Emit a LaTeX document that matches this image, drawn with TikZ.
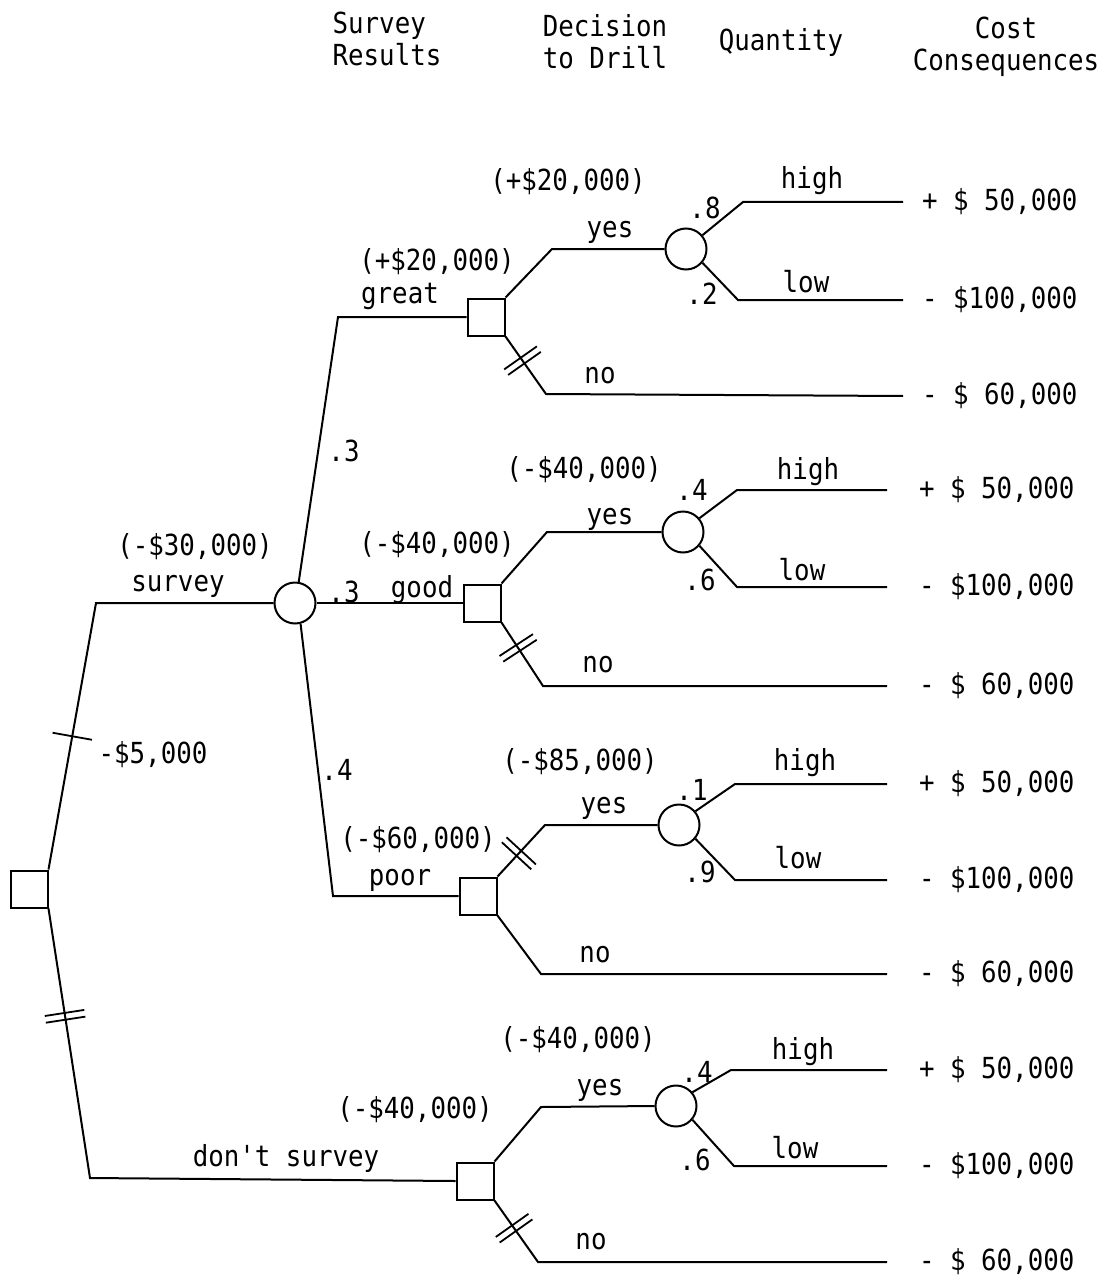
\documentclass[tikz,border=0pt]{standalone}
\usepackage{fontspec}
\newfontfamily\tw[FakeStretch=0.89]{DejaVu Sans Mono}
\usetikzlibrary{calc}
\newcommand{\onetick}{\rule{1.8pt}{40pt}}
\newcommand{\twotick}{\rule{1.8pt}{40pt}\hspace{5pt}\rule{1.8pt}{40pt}}
\begin{document}
\begin{tikzpicture}[x=1pt,y=-1pt,line width=2pt,line join=miter,
  every node/.style={font=\tw\fontsize{29}{32}\selectfont, inner sep=1pt},
  dec/.style={draw, rectangle, minimum size=37pt, inner sep=0pt},
  chance/.style={draw, circle, minimum size=41pt, inner sep=0pt},
  val/.style={anchor=west, inner xsep=18pt, inner ysep=0pt},
  short/.style={shorten >=13pt},
  tk/.style={sloped, inner sep=0pt, pos=#1, anchor=center}]
\useasboundingbox (0,0) rectangle (1111,1281);

% headers
\node[align=left] (hS) at (387,39) {Survey\\Results};
\node[align=left] (hD) at (605,42) {Decision\\to Drill};
\node (hQ) at (781,43) {Quantity};
\node[align=center] (hC) at (1006,47) {Cost\\Consequences};

% root
\node[dec] (r) at (29,889) {};
\node[chance] (c0) at (295,603) {};
\draw (r.north east) -- node[tk=0.5]{\onetick} (96,603) -- (c0.west);
\node (l5) at (153,755) {-\$5,000};
\node (lsvc) at (195,547) {(-\$30,000)};
\node (lsv) at (178,586) {survey};

% ---------- group 1: great
\node[dec] (s1) at (486,317) {};
\draw (c0.80) -- (338,317) -- (s1.west);
\node (p1) at (344,451) {.3};
\node (g1c) at (437,262) {(+\$20,000)};
\node (g1) at (400,296) {great};
\node[chance] (q1) at (686,249) {};
\draw (s1.north east) -- (552,249) -- (q1.west);
\node (y1) at (610,232) {yes};
\node (y1c) at (568,182) {(+\$20,000)};
\node[val] (v1) at (903,202) {+ \$ 50,000};
\node[val] (v2) at (903,300) {- \$100,000};
\node[val] (v3) at (903,396) {- \$ 60,000};
\draw (q1.40) -- (743,202) -- (v1.west);
\draw (q1.-40) -- (738,300) -- (v2.west);
\draw (s1.south east) -- node[tk=0.42]{\twotick} (546,394) -- (v3.west);
\node at (705,208) {.8};
\node at (702,294) {.2};
\node at (812,181) {high};
\node at (806,282) {low};
\node at (600,376) {no};

% ---------- group 2: good
\node[dec] (s2) at (482,603) {};
\draw (c0.east) -- (s2.west);
\node (p2) at (344,592) {.3};
\node at (437,545) {(-\$40,000)};
\node at (422,590) {good};
\node[chance] (q2) at (683,532) {};
\draw (s2.north east) -- (547,532) -- (q2.west);
\node at (610,519) {yes};
\node at (584,470) {(-\$40,000)};
\node[val] (v4) at (900,490) {+ \$ 50,000};
\node[val] (v5) at (900,587) {- \$100,000};
\node[val] (v6) at (900,686) {- \$ 60,000};
\draw[short] (q2.40) -- (737,490) -- (v4.west);
\draw[short] (q2.-40) -- (737,587) -- (v5.west);
\draw[short] (s2.south east) -- node[tk=0.4]{\twotick} (543,686) -- (v6.west);
\node at (692,490) {.4};
\node at (700,580) {.6};
\node at (808,472) {high};
\node at (802,570) {low};
\node at (598,665) {no};

% ---------- group 3: poor
\node[dec] (s3) at (478,896) {};
\draw (c0.-75) -- (333,896) -- (s3.west);
\node (p3) at (337,770) {.4};
\node at (418,840) {(-\$60,000)};
\node at (400,880) {poor};
\node[chance] (q3) at (679,825) {};
\draw (s3.north east) -- node[tk=0.45]{\twotick} (545,825) -- (q3.west);
\node at (604,808) {yes};
\node at (580,762) {(-\$85,000)};
\node[val] (v7) at (900,784) {+ \$ 50,000};
\node[val] (v8) at (900,880) {- \$100,000};
\node[val] (v9) at (900,974) {- \$ 60,000};
\draw[short] (q3.40) -- (735,784) -- (v7.west);
\draw[short] (q3.-40) -- (735,880) -- (v8.west);
\draw[short] (s3.south east) -- (541,974) -- (v9.west);
\node at (692,790) {.1};
\node at (700,872) {.9};
\node at (805,763) {high};
\node at (798,858) {low};
\node at (595,955) {no};

% ---------- group 4: don't survey
\node[dec] (s4) at (475,1181) {};
\draw (r.south east) -- node[tk=0.4]{\twotick} (90,1178) -- (s4.west);
\node at (286,1158) {don't survey};
\node at (415,1110) {(-\$40,000)};
\node[chance] (q4) at (676,1106) {};
\draw (s4.north east) -- (541,1107) -- (q4.west);
\node at (600,1090) {yes};
\node at (578,1040) {(-\$40,000)};
\node[val] (v10) at (900,1070) {+ \$ 50,000};
\node[val] (v11) at (900,1166) {- \$100,000};
\node[val] (v12) at (900,1262) {- \$ 60,000};
\draw[short] (q4.40) -- (731,1070) -- (v10.west);
\draw[short] (q4.-40) -- (734,1166) -- (v11.west);
\draw[short] (s4.south east) -- node[tk=0.45]{\twotick} (538,1262) -- (v12.west);
\node at (697,1072) {.4};
\node at (695,1160) {.6};
\node at (803,1052) {high};
\node at (795,1148) {low};
\node at (591,1242) {no};
\end{tikzpicture}
\end{document}
